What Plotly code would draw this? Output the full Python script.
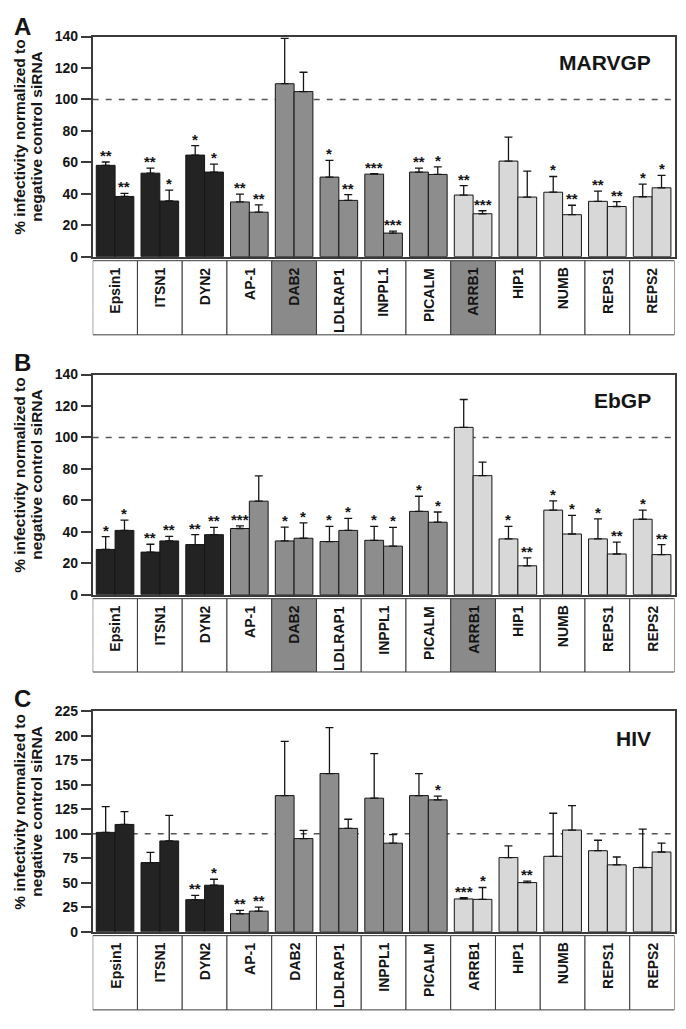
import plotly.graph_objects as go

# ---------------- data ----------------
genes = ["Epsin1", "ITSN1", "DYN2", "AP-1", "DAB2", "LDLRAP1", "INPPL1",
         "PICALM", "ARRB1", "HIP1", "NUMB", "REPS1", "REPS2"]
gene_group = ["dark"] * 3 + ["mid"] * 5 + ["light"] * 5

y_ticks_ab = [0, 20, 40, 60, 80, 100, 120, 140]
y_ticks_c = [0, 25, 50, 75, 100, 125, 150, 175, 200, 225]

# Panel A: MARVGP
marv_rep1 = [58.1, 53.1, 64.6, 34.8, 110.0, 50.6, 52.5, 53.8, 39.2, 60.8, 41.0, 35.2, 38.1]
marv_err1 = [2.1, 3.2, 6.0, 5.0, 28.8, 10.6, 0.3, 2.5, 6.0, 15.2, 10.0, 6.5, 8.1]
marv_rep2 = [38.3, 35.4, 53.8, 28.3, 105.0, 35.8, 15.0, 52.3, 27.3, 37.9, 26.7, 31.9, 43.8]
marv_err2 = [1.9, 6.9, 5.0, 4.6, 12.3, 3.6, 1.3, 4.8, 1.9, 16.5, 6.0, 3.1, 7.9]
marv_sig1 = ["**", "**", "*", "**", "", "*", "***", "**", "**", "", "*", "**", "*"]
marv_sig2 = ["**", "*", "*", "**", "", "**", "***", "*", "***", "", "**", "**", "*"]
marv_shaded = ["DAB2", "ARRB1"]

# Panel B: EbGP
ebgp_rep1 = [28.8, 27.1, 31.9, 42.1, 34.2, 33.8, 34.6, 53.0, 106.4, 35.5, 53.8, 35.5, 48.0]
ebgp_err1 = [8.1, 5.0, 6.3, 1.7, 8.8, 9.6, 8.8, 9.6, 17.7, 7.9, 5.9, 12.7, 5.8]
ebgp_rep2 = [40.9, 34.2, 38.2, 59.5, 35.9, 40.9, 30.9, 46.1, 75.7, 18.4, 38.6, 25.9, 25.5]
ebgp_err2 = [6.5, 2.9, 4.6, 16.0, 9.8, 7.7, 11.9, 6.5, 8.6, 5.0, 11.9, 7.5, 6.4]
ebgp_sig1 = ["*", "**", "**", "***", "*", "*", "*", "*", "", "*", "*", "*", "*"]
ebgp_sig2 = ["*", "**", "**", "", "*", "*", "*", "*", "", "**", "*", "**", "**"]
ebgp_shaded = ["DAB2", "ARRB1"]

# Panel C: HIV
hiv_rep1 = [101.4, 70.6, 32.8, 18.4, 138.9, 161.4, 136.3, 138.9, 33.5, 75.7, 77.0, 82.7, 65.6]
hiv_err1 = [26.2, 10.4, 4.4, 3.4, 55.3, 46.8, 45.5, 22.5, 1.3, 12.0, 43.9, 10.7, 39.2]
hiv_rep2 = [109.5, 92.7, 47.5, 21.1, 95.1, 105.5, 90.4, 134.6, 33.1, 50.2, 103.8, 68.3, 81.4]
hiv_err2 = [13.0, 26.1, 6.1, 4.0, 8.3, 9.3, 8.7, 3.7, 12.1, 1.4, 24.8, 8.0, 9.0]
hiv_sig1 = ["", "", "**", "**", "", "", "", "", "***", "", "", "", ""]
hiv_sig2 = ["", "", "*", "**", "", "", "", "*", "*", "**", "", "", ""]
hiv_shaded = []

# ---------------- styling / layout ----------------
W, H = 686, 1029
FONT = "Liberation Sans, Arial, sans-serif"
COLORS = {"dark": "#232323", "mid": "#8d8d8d", "light": "#d8d8d8"}
BOX_SHADE = "#8a8a8a"
LINE = "#3a3a3a"
OFF = 0.21
BW = 0.42


def fx(p):
    return p / W


def fy(p):
    return 1 - p / H


panels = [
    dict(name="A", title="MARVGP", r1=marv_rep1, e1=marv_err1, r2=marv_rep2, e2=marv_err2,
         s1=marv_sig1, s2=marv_sig2, shaded=marv_shaded, ymax=140, ticks=y_ticks_ab,
         top=29.0, bot=252.6, btop=256.7, bbot=332.0, ttl_y=55.5, lab_y=19),
    dict(name="B", title="EbGP", r1=ebgp_rep1, e1=ebgp_err1, r2=ebgp_rep2, e2=ebgp_err2,
         s1=ebgp_sig1, s2=ebgp_sig2, shaded=ebgp_shaded, ymax=140, ticks=y_ticks_ab,
         top=372.3, bot=596.0, btop=600.0, bbot=674.5, ttl_y=398.5, lab_y=360),
    dict(name="C", title="HIV", r1=hiv_rep1, e1=hiv_err1, r2=hiv_rep2, e2=hiv_err2,
         s1=hiv_sig1, s2=hiv_sig2, shaded=hiv_shaded, ymax=225, ticks=y_ticks_c,
         top=714.3, bot=938.4, btop=942.3, bbot=1017.7, ttl_y=742, lab_y=701),
]

fig = go.Figure()
annotations = []
shapes = []
layout = {}
xdom = [fx(92.7), fx(674.5)]
idx = list(range(len(genes)))
bar_colors = [COLORS[g] for g in gene_group]

for k, p in enumerate(panels):
    sfx = "" if k == 0 else str(k + 1)
    xa, ya = "x" + sfx, "y" + sfx
    for reps, errs, sigs, sign in ((p["r1"], p["e1"], p["s1"], -1), (p["r2"], p["e2"], p["s2"], 1)):
        xs = [i + sign * OFF for i in idx]
        fig.add_trace(go.Bar(
            x=xs, y=reps, width=BW, xaxis=xa, yaxis=ya,
            marker=dict(color=bar_colors, line=dict(color="#151515", width=1)),
            error_y=dict(type="data", symmetric=False, array=errs,
                         arrayminus=[0] * len(errs), color="#151515",
                         thickness=1.3, width=4),
            showlegend=False, hoverinfo="skip"))
        for xv, v, e, s in zip(xs, reps, errs, sigs):
            if s:
                annotations.append(dict(
                    x=xv, y=v + e, xref=xa, yref=ya, text=s, showarrow=False,
                    xanchor="center", yanchor="bottom", yshift=-4,
                    font=dict(family=FONT, size=15, color="#151515", weight="bold")))

    layout["xaxis" + sfx] = dict(
        domain=xdom, range=[-0.5, 12.5], anchor=ya, showticklabels=False,
        ticks="", showgrid=False, zeroline=False, showline=True, mirror=True,
        linecolor=LINE, linewidth=1.5)
    layout["yaxis" + sfx] = dict(
        domain=[fy(p["bot"]), fy(p["top"])], range=[0, p["ymax"]], anchor=xa,
        tickvals=p["ticks"], ticks="outside", ticklen=10, tickwidth=1.5,
        tickcolor=LINE, showgrid=False, zeroline=False, showline=True,
        mirror=True, linecolor=LINE, linewidth=1.5,
        tickfont=dict(family=FONT, size=14, color="#151515", weight="bold"))

    # 100% reference line
    shapes.append(dict(type="line", xref=xa, yref=ya, x0=-0.5, x1=12.5, y0=100, y1=100,
                       layer="below", line=dict(color="#555555", width=1.5, dash="6px,7px")))

    # gene label boxes
    for i, g in enumerate(genes):
        shapes.append(dict(type="rect", xref=xa, yref="paper",
                           x0=i - 0.5, x1=i + 0.5, y0=fy(p["bbot"]), y1=fy(p["btop"]),
                           fillcolor=BOX_SHADE if g in p["shaded"] else "white",
                           line=dict(color=LINE, width=1)))
        annotations.append(dict(
            x=i, y=fy(p["btop"] + 5), xref=xa, yref="paper", text=g, textangle=-90,
            showarrow=False, xanchor="center", yanchor="top",
            font=dict(family=FONT, size=14, color="#151515", weight="bold")))

    # panel title (virus)
    annotations.append(dict(
        x=fx(653), y=fy(p["ttl_y"]), xref="paper", yref="paper", text=p["title"],
        showarrow=False, xanchor="right", yanchor="middle",
        font=dict(family=FONT, size=21, color="#151515", weight="bold")))
    # panel letter
    annotations.append(dict(
        x=fx(22), y=fy(p["lab_y"]), xref="paper", yref="paper", text=p["name"],
        showarrow=False, xanchor="center", yanchor="middle",
        font=dict(family=FONT, size=24, color="#151515", weight="bold")))
    # y-axis title (two lines)
    ymid = (p["top"] + p["bot"]) / 2 - 10
    for xc, line_txt in ((20, "% infectivity normalized to"), (37, "negative control siRNA")):
        annotations.append(dict(
            x=fx(xc), y=fy(ymid), xref="paper", yref="paper", text=line_txt,
            textangle=-90, showarrow=False, xanchor="center", yanchor="middle",
            font=dict(family=FONT, size=15.5, color="#151515", weight="bold")))

fig.update_layout(
    width=W, height=H, margin=dict(l=0, r=0, t=0, b=0),
    paper_bgcolor="white", plot_bgcolor="white", barmode="overlay",
    annotations=annotations, shapes=shapes, **layout)

fig.write_html("out.html", config={"displayModeBar": False},
               post_script="document.body.style.margin='0';")
